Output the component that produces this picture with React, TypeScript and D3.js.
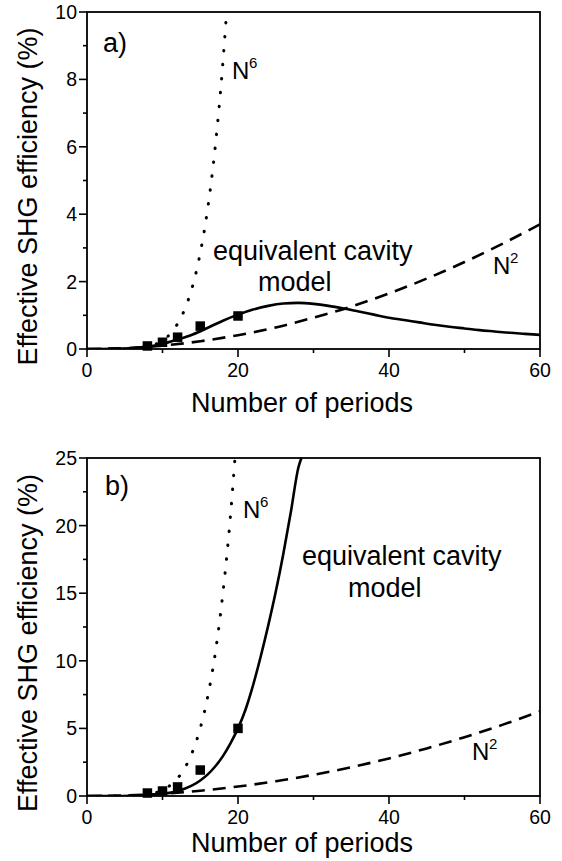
import React from 'react';
import * as d3 from 'd3';

// ---------- data ----------
const xMajor = [0, 20, 40, 60];
const xMinor = [10, 30, 50];
const yMajorA = [0, 2, 4, 6, 8, 10];
const yMinorA = [1, 3, 5, 7, 9];
const yMajorB = [0, 5, 10, 15, 20, 25];
const yMinorB = [2.5, 7.5, 12.5, 17.5, 22.5];

const expN = [8, 10, 12, 15, 20];
const expA = [0.09, 0.2, 0.35, 0.68, 0.98];
const expB = [0.22, 0.37, 0.67, 1.92, 5.0];

const cavAN = [0, 2, 4, 6, 8, 10, 12, 14, 16, 18, 20, 22, 24, 26, 28, 30, 32, 34, 36, 38, 40, 42, 44, 46, 48, 50, 52, 54, 56, 58, 60];
const cavA = [0, 0.002, 0.01, 0.03, 0.07, 0.15, 0.28, 0.43, 0.63, 0.84, 1.02, 1.17, 1.28, 1.35, 1.37, 1.34, 1.28, 1.2, 1.11, 1.02, 0.93, 0.86, 0.79, 0.72, 0.66, 0.61, 0.56, 0.52, 0.48, 0.45, 0.42];

const cavBN = [0, 2, 4, 6, 8, 10, 12, 13, 14, 15, 16, 17, 18, 19, 20, 21, 22, 23, 24, 25, 26, 27, 28, 28.4];
const cavB = [0, 0.001, 0.005, 0.02, 0.07, 0.17, 0.35, 0.55, 0.8, 1.15, 1.6, 2.2, 2.95, 3.9, 5.0, 6.4, 8.2, 10.3, 12.6, 15.1, 17.9, 21.0, 24.3, 25];

const n2N = [0, 5, 10, 15, 20, 25, 30, 35, 40, 45, 50, 55, 60];
const n2A = [0, 0.026, 0.1, 0.23, 0.41, 0.64, 0.93, 1.26, 1.65, 2.09, 2.58, 3.12, 3.7];
const n2B = [0, 0.04, 0.17, 0.39, 0.7, 1.09, 1.57, 2.13, 2.78, 3.52, 4.35, 5.26, 6.26];

const n6AN = [0, 4, 6, 8, 9, 10, 11, 12, 13, 14, 15, 16, 17, 18, 18.4];
const n6A = [0, 0.001, 0.012, 0.066, 0.133, 0.25, 0.44, 0.75, 1.21, 1.88, 2.85, 4.19, 6.03, 8.5, 9.7];
const n6BN = [0, 4, 6, 8, 9, 10, 11, 12, 13, 14, 15, 16, 17, 18, 19, 19.6];
const n6B = [0, 0.002, 0.02, 0.115, 0.234, 0.44, 0.78, 1.31, 2.12, 3.31, 5.01, 7.38, 10.6, 15.0, 20.7, 25];

const FONT = "'Liberation Sans', Arial, Helvetica, sans-serif";

type Pt = [number, number];
const zip = (a: number[], b: number[]): Pt[] => a.map((v, i) => [v, b[i]]);

interface PanelProps {
  id: string;
  top: number;
  bottom: number;
  yMax: number;
  yMajor: number[];
  yMinor: number[];
  cav: Pt[];
  n2: Pt[];
  n6: Pt[];
  exp: Pt[];
  letter: string;
  letterPos: [number, number];
  n6Pos: [number, number];
  eqPos: [number, number];
  modelPos: [number, number];
  n2Pos: [number, number];
}

function Panel(p: PanelProps) {
  const left = 87, right = 540;
  const x = d3.scaleLinear().domain([0, 60]).range([left, right]);
  const y = d3.scaleLinear().domain([0, p.yMax]).range([p.bottom, p.top]);
  const line = d3.line<Pt>().x(d => x(d[0])).y(d => y(d[1])).curve(d3.curveMonotoneX);
  const clipId = 'clip-' + p.id;
  const midY = (p.top + p.bottom) / 2;
  return (
    <g>
      <defs>
        <clipPath id={clipId}>
          <rect x={left} y={p.top - 1} width={right - left} height={p.bottom - p.top + 1} />
        </clipPath>
      </defs>
      <g clipPath={`url(#${clipId})`} fill="none" stroke="#000">
        <path d={line(p.n2) || ''} strokeWidth={2.6} strokeDasharray="13,8" />
        <path d={line(p.n6) || ''} strokeWidth={3} strokeDasharray="0.5,13.5" strokeLinecap="round" />
        <path d={line(p.cav) || ''} strokeWidth={2.6} />
      </g>
      {p.exp.map((d, i) => (
        <rect key={i} x={x(d[0]) - 4.75} y={y(d[1]) - 4.75} width={9.5} height={9.5} fill="#000" />
      ))}
      {/* frame */}
      <rect x={left} y={p.top} width={right - left} height={p.bottom - p.top} fill="none" stroke="#000" strokeWidth={1.8} />
      {/* x ticks */}
      {xMajor.map(v => (
        <g key={'xm' + v}>
          <line x1={x(v)} x2={x(v)} y1={p.bottom} y2={p.bottom + 8} stroke="#000" strokeWidth={1.6} />
          <text x={x(v)} y={p.bottom + 28} textAnchor="middle" fontSize={19.5} fontFamily={FONT}>{v}</text>
        </g>
      ))}
      {xMinor.map(v => (
        <line key={'xn' + v} x1={x(v)} x2={x(v)} y1={p.bottom} y2={p.bottom + 4} stroke="#000" strokeWidth={1.6} />
      ))}
      {p.yMajor.map(v => (
        <g key={'ym' + v}>
          <line x1={left - 8} x2={left} y1={y(v)} y2={y(v)} stroke="#000" strokeWidth={1.6} />
          <text x={77} y={y(v)} dy="0.36em" textAnchor="end" fontSize={19.5} fontFamily={FONT}>{v}</text>
        </g>
      ))}
      {p.yMinor.map(v => (
        <line key={'yn' + v} x1={left - 4} x2={left} y1={y(v)} y2={y(v)} stroke="#000" strokeWidth={1.6} />
      ))}
      {/* axis titles */}
      <text x={302} y={p.bottom + (p.id === 'a' ? 63 : 56)} textAnchor="middle" fontSize={27} fontFamily={FONT}>Number of periods</text>
      <text transform={`translate(37,${midY + 16}) rotate(-90)`} textAnchor="middle" fontSize={27} fontFamily={FONT}>Effective SHG efficiency (%)</text>
      {/* annotations */}
      <text x={p.letterPos[0]} y={p.letterPos[1]} fontSize={27} fontFamily={FONT}>{p.letter}</text>
      <text x={p.n6Pos[0]} y={p.n6Pos[1]} fontSize={24} fontFamily={FONT}>N</text>
      <text x={p.n6Pos[0] + 17} y={p.n6Pos[1] - 11} fontSize={15} fontFamily={FONT}>6</text>
      <text x={p.eqPos[0]} y={p.eqPos[1]} fontSize={27} fontFamily={FONT}>equivalent cavity</text>
      <text x={p.modelPos[0]} y={p.modelPos[1]} fontSize={27} fontFamily={FONT}>model</text>
      <text x={p.n2Pos[0]} y={p.n2Pos[1]} fontSize={24} fontFamily={FONT}>N</text>
      <text x={p.n2Pos[0] + 17} y={p.n2Pos[1] - 11} fontSize={15} fontFamily={FONT}>2</text>
    </g>
  );
}

export default function App() {
  return (
    <svg width={562} height={861} style={{ position: 'absolute', left: 0, top: 0, background: '#fff' }}>
      <rect width={562} height={861} fill="#fff" />
      <Panel
        id="a" top={12} bottom={349} yMax={10} yMajor={yMajorA} yMinor={yMinorA}
        cav={zip(cavAN, cavA)} n2={zip(n2N, n2A)} n6={zip(n6AN, n6A)} exp={zip(expN, expA)}
        letter="a)" letterPos={[103, 52]} n6Pos={[232, 79]} eqPos={[213, 260]} modelPos={[258, 291]} n2Pos={[493, 274]}
      />
      <Panel
        id="b" top={458} bottom={796} yMax={25} yMajor={yMajorB} yMinor={yMinorB}
        cav={zip(cavBN, cavB)} n2={zip(n2N, n2B)} n6={zip(n6BN, n6B)} exp={zip(expN, expB)}
        letter="b)" letterPos={[105, 495]} n6Pos={[243, 518]} eqPos={[302, 565]} modelPos={[348, 597]} n2Pos={[472, 760]}
      />
    </svg>
  );
}
